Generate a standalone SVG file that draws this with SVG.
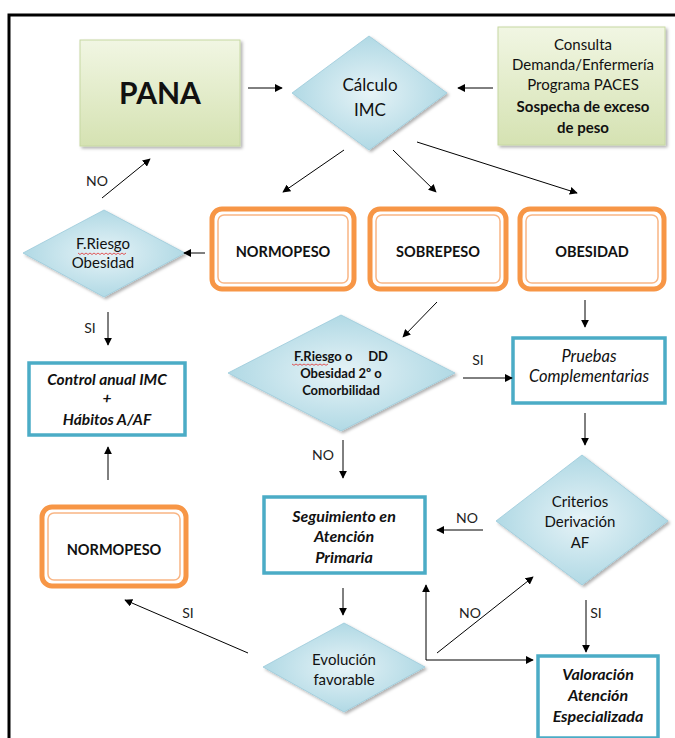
<svg xmlns="http://www.w3.org/2000/svg" width="675" height="738" viewBox="0 0 675 738">
<defs>
  <linearGradient id="gGreen" x1="0" y1="0" x2="0" y2="1">
    <stop offset="0" stop-color="#f1f6e3"/>
    <stop offset="1" stop-color="#d5e2b2"/>
  </linearGradient>
  <radialGradient id="gBlue" cx="0.5" cy="0.5" r="0.6">
    <stop offset="0" stop-color="#e6f3f7"/>
    <stop offset="1" stop-color="#a6d4e1"/>
  </radialGradient>
  <filter id="sh" x="-10%" y="-10%" width="130%" height="130%">
    <feDropShadow dx="2" dy="2" stdDeviation="1.5" flood-color="#000" flood-opacity="0.3"/>
  </filter>
  <marker id="ah" viewBox="0 0 10 10" refX="9" refY="5" markerWidth="8" markerHeight="8" markerUnits="userSpaceOnUse" orient="auto">
    <path d="M0,0 L10,5 L0,10 z" fill="#000"/>
  </marker>
  <style>
    text { font-family: Lato, "Liberation Sans", sans-serif; fill: #111; text-anchor: middle; }
    .green { fill: url(#gGreen); stroke: #c6d8a2; stroke-width: 1; filter: url(#sh); }
    .dia { fill: url(#gBlue); stroke: #9ccadb; stroke-width: 0.8; filter: url(#sh); }
    .orOut { fill: #fff; stroke: #f79646; stroke-width: 5; }
    .orIn { fill: none; stroke: #f9b584; stroke-width: 1.5; }
    .teal { fill: #fff; stroke: #4bacc6; stroke-width: 3.5; }
    .lbl { font-size: 14px; fill: #222; }
    .b { font-weight: bold; }
    .bi { font-weight: bold; font-style: italic; }
    .it { font-style: italic; }
    .conn line, .conn path { stroke: #000; stroke-width: 1; fill: none; }
    .wavy { stroke: #e03030; stroke-width: 0.8; fill: none; }
  </style>
</defs>

<rect width="675" height="738" fill="#fff"/>
<!-- frame -->
<path d="M9,738 V15 H675" fill="none" stroke="#000" stroke-width="3"/>

<g id="pana">
  <rect class="green" x="80" y="40" width="160" height="106"/>
  <text x="160" y="104" font-size="30" class="b">PANA</text>
</g>

<g id="consulta">
  <rect class="green" x="498" y="27" width="167" height="118"/>
  <text x="583" y="50" font-size="15">Consulta</text>
  <text x="583" y="70" font-size="15">Demanda/Enfermería</text>
  <text x="583" y="90" font-size="15">Programa PACES</text>
  <text x="583" y="112" font-size="15" class="b">Sospecha de exceso</text>
  <text x="583" y="133" font-size="15" class="b">de peso</text>
</g>

<g id="calculo">
  <polygon class="dia" points="369,36 447,93 369,150 292,93"/>
  <text x="370" y="91" font-size="17">Cálculo</text>
  <text x="370" y="116" font-size="17">IMC</text>
</g>

<g id="normopeso1">
  <rect class="orOut" x="212" y="209" width="142" height="80" rx="10"/>
  <rect class="orIn" x="218" y="215" width="130" height="68" rx="6"/>
  <text x="283" y="257" font-size="14.5" class="b">NORMOPESO</text>
</g>

<g id="sobrepeso">
  <rect class="orOut" x="370" y="209" width="136" height="80" rx="10"/>
  <rect class="orIn" x="376" y="215" width="124" height="68" rx="6"/>
  <text x="438" y="257" font-size="14.5" class="b">SOBREPESO</text>
</g>

<g id="obesidad">
  <rect class="orOut" x="520" y="209" width="144" height="80" rx="10"/>
  <rect class="orIn" x="526" y="215" width="132" height="68" rx="6"/>
  <text x="592" y="257" font-size="14.5" class="b">OBESIDAD</text>
</g>

<g id="friesgo1">
  <polygon class="dia" points="104,210 185,253 104,297 23,253"/>
  <text x="103" y="249" font-size="15" fill="#333">F.Riesgo</text>
  <path class="wavy" d="M78,253 l2,1.5 l2,-1.5 l2,1.5 l2,-1.5 l2,1.5 l2,-1.5 l2,1.5 l2,-1.5 l2,1.5 l2,-1.5 l2,1.5 l2,-1.5 l2,1.5 l2,-1.5 l2,1.5 l2,-1.5 l2,1.5 l2,-1.5 l2,1.5 l2,-1.5 l2,1.5 l2,-1.5 l2,1.5 l2,-1.5"/>
  <text x="103" y="268" font-size="15" fill="#333">Obesidad</text>
</g>

<g id="control">
  <rect class="teal" x="29" y="363" width="156" height="72"/>
  <text x="107" y="385" font-size="15.5" class="bi">Control anual IMC</text>
  <text x="107" y="404" font-size="15.5" class="bi">+</text>
  <text x="107" y="425" font-size="15.5" class="bi">Hábitos A/AF</text>
</g>

<g id="friesgo2">
  <polygon class="dia" points="341,315 455,373 341,431 228,373"/>
  <text x="341" y="361" font-size="13" class="b" xml:space="preserve">F.Riesgo o     DD</text>
  <path class="wavy" d="M292,364 l2,1.3 l2,-1.3 l2,1.3 l2,-1.3 l2,1.3 l2,-1.3 l2,1.3 l2,-1.3 l2,1.3 l2,-1.3 l2,1.3 l2,-1.3 l2,1.3 l2,-1.3 l2,1.3 l2,-1.3 l2,1.3 l2,-1.3"/>
  <text x="341" y="378" font-size="13" class="b">Obesidad 2º o</text>
  <text x="341" y="395" font-size="13" class="b">Comorbilidad</text>
</g>

<g id="pruebas">
  <rect class="teal" x="513" y="338" width="152" height="65"/>
  <text x="589" y="362" font-size="16.5" class="it">Pruebas</text>
  <text x="589" y="382" font-size="16.5" class="it">Complementarias</text>
</g>

<g id="criterios">
  <polygon class="dia" points="582,455 668,521 582,585 496,521"/>
  <text x="580" y="507" font-size="15" fill="#333">Criterios</text>
  <text x="580" y="527" font-size="15" fill="#333">Derivación</text>
  <text x="580" y="548" font-size="15" fill="#333">AF</text>
</g>

<g id="seguimiento">
  <rect class="teal" x="264" y="497" width="161" height="76"/>
  <text x="344" y="522" font-size="16" class="bi">Seguimiento en</text>
  <text x="344" y="542" font-size="16" class="bi">Atención</text>
  <text x="344" y="563" font-size="16" class="bi">Primaria</text>
</g>

<g id="normopeso2">
  <rect class="orOut" x="42" y="507" width="144" height="79" rx="10"/>
  <rect class="orIn" x="48" y="513" width="132" height="67" rx="6"/>
  <text x="114" y="555" font-size="14.5" class="b">NORMOPESO</text>
</g>

<g id="evolucion">
  <polygon class="dia" points="344,623 425,667 344,712 263,667"/>
  <text x="344" y="665" font-size="15" fill="#333">Evolución</text>
  <text x="344" y="685" font-size="15" fill="#333">favorable</text>
</g>

<g id="valoracion">
  <rect class="teal" x="538" y="656" width="120" height="82"/>
  <text x="598" y="680" font-size="16" class="bi">Valoración</text>
  <text x="598" y="701" font-size="16" class="bi">Atención</text>
  <text x="598" y="722" font-size="16" class="bi">Especializada</text>
</g>

<g id="connectors" class="conn">
  <line x1="248" y1="88" x2="282" y2="88" marker-end="url(#ah)"/>
  <line x1="493" y1="88" x2="458" y2="88" marker-end="url(#ah)"/>
  <line x1="344" y1="150" x2="283" y2="192" marker-end="url(#ah)"/>
  <line x1="393" y1="150" x2="436" y2="192" marker-end="url(#ah)"/>
  <line x1="417" y1="142" x2="577" y2="193" marker-end="url(#ah)"/>
  <line x1="205" y1="253" x2="184" y2="253" marker-end="url(#ah)"/>
  <line x1="102" y1="198" x2="150" y2="159" marker-end="url(#ah)"/>
  <line x1="108" y1="312" x2="108" y2="345" marker-end="url(#ah)"/>
  <line x1="108" y1="480" x2="108" y2="447" marker-end="url(#ah)"/>
  <line x1="437" y1="302" x2="403" y2="337" marker-end="url(#ah)"/>
  <line x1="463" y1="378" x2="512" y2="378" marker-end="url(#ah)"/>
  <line x1="585" y1="300" x2="585" y2="327" marker-end="url(#ah)"/>
  <line x1="585" y1="413" x2="585" y2="445" marker-end="url(#ah)"/>
  <line x1="483" y1="530" x2="437" y2="530" marker-end="url(#ah)"/>
  <line x1="343" y1="440" x2="343" y2="478" marker-end="url(#ah)"/>
  <line x1="343" y1="588" x2="343" y2="615" marker-end="url(#ah)"/>
  <line x1="248" y1="653" x2="125" y2="600" marker-end="url(#ah)"/>
  <line x1="426" y1="660" x2="426" y2="585" marker-end="url(#ah)"/>
  <line x1="426" y1="660" x2="533" y2="660" marker-end="url(#ah)"/>
  <line x1="437" y1="653" x2="533" y2="577" marker-end="url(#ah)"/>
  <line x1="586" y1="600" x2="586" y2="652" marker-end="url(#ah)"/>
</g>

<g id="labels">
  <text class="lbl" x="97" y="186">NO</text>
  <text class="lbl" x="90" y="333">SI</text>
  <text class="lbl" x="478" y="365">SI</text>
  <text class="lbl" x="323" y="460">NO</text>
  <text class="lbl" x="467" y="523">NO</text>
  <text class="lbl" x="188" y="618">SI</text>
  <text class="lbl" x="470" y="618">NO</text>
  <text class="lbl" x="596" y="618">SI</text>
</g>
</svg>
